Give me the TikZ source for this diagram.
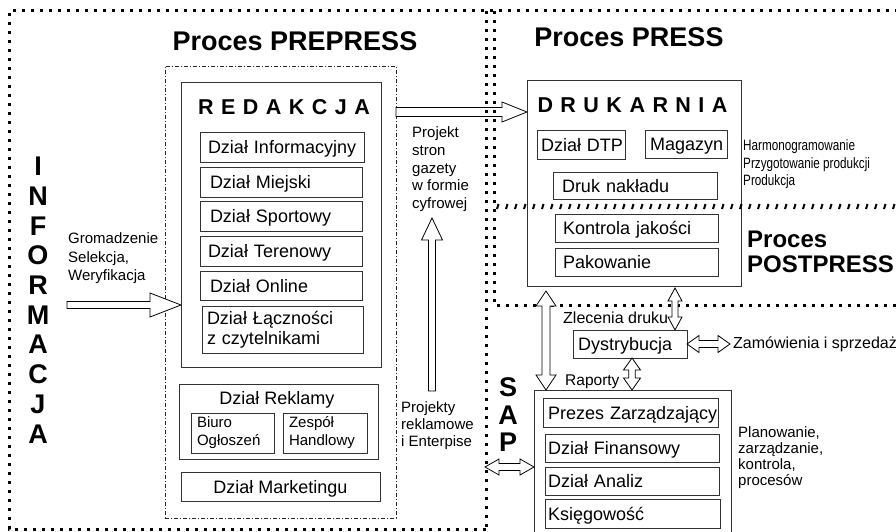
\documentclass[tikz,border=0pt]{standalone}
\usepackage{fontspec}
\setmainfont{Liberation Sans}
\newfontfamily\narrowsans[FakeStretch=0.78]{Liberation Sans}
\newfontfamily\spacedsans[LetterSpace=7]{Liberation Sans}
\usetikzlibrary{calc}

\tikzset{
  blockarr/.style={draw=black, line width=0.8pt, fill=white, line join=miter},
  frame/.style={line width=3pt, dash pattern=on 3pt off 6pt},
  groupbox/.style={draw=black!80, line width=0.9pt, anchor=north west, outer sep=0pt, inner sep=0pt},
  cellbase/.style={draw=black!80, line width=0.9pt, anchor=north west, outer sep=0pt,
    inner ysep=0pt, align=left, font=\fontsize{18}{20}\selectfont,
    execute at begin node={\hyphenpenalty=10000\exhyphenpenalty=10000\hbadness=10000\hfuzz=20pt\relax}},
  cell/.style={cellbase, text height=16.2pt, text depth=3.2pt},
  title/.style={anchor=base, inner sep=0pt, font=\fontsize{27}{30}\selectfont\bfseries},
  spacedtitle/.style={anchor=base, inner sep=0pt, font=\spacedsans\fontsize{21.5}{24}\selectfont\bfseries},
  bigletter/.style={anchor=base, inner sep=0pt, font=\fontsize{27}{30}\selectfont\bfseries},
  note/.style={anchor=north west, inner sep=0pt, align=left, font=\fontsize{15}{17.5}\selectfont},
  label15/.style={anchor=base west, inner sep=0pt, font=\fontsize{16}{19}\selectfont},
}

% hollow block arrow: tail, tip, shaft half width, head half width, head length
\newcommand\blockarrow[5]{%
  \draw[blockarr] ($(#1)!#3!90:(#2)$) -- ($(#2)!#5!(#1)!#3!90:(#2)$)
    -- ($(#2)!#5!(#1)!#4!90:(#2)$) -- (#2)
    -- ($(#2)!#5!(#1)!#4!-90:(#2)$) -- ($(#2)!#5!(#1)!#3!-90:(#2)$)
    -- ($(#1)!#3!-90:(#2)$) -- cycle;}
% hollow two-way block arrow: tip, tip, shaft half width, head half width, head length
\newcommand\twowayarrow[5]{%
  \draw[blockarr] (#1) -- ($(#1)!#5!(#2)!#4!90:(#2)$) -- ($(#1)!#5!(#2)!#3!90:(#2)$)
    -- ($(#2)!#5!(#1)!#3!90:(#2)$) -- ($(#2)!#5!(#1)!#4!90:(#2)$) -- (#2)
    -- ($(#2)!#5!(#1)!#4!-90:(#2)$) -- ($(#2)!#5!(#1)!#3!-90:(#2)$)
    -- ($(#1)!#5!(#2)!#3!-90:(#2)$) -- ($(#1)!#5!(#2)!#4!-90:(#2)$) -- cycle;}

\begin{document}
\begin{tikzpicture}[x=1pt, y=-1pt]
\useasboundingbox (0,0) rectangle (896,532);
\clip (0,0) rectangle (896,532);
\fill[white] (0,0) rectangle (896,532);

% ---------- PREPRESS ----------
\node[title] (tPre) at (295,50.5) {Proces PREPRESS};
\node[groupbox, draw=black!85, line width=0.7pt, dash pattern=on 4pt off 2pt on 1pt off 2pt,
      minimum width=231pt, minimum height=452pt] (prepress) at (165,66) {};
\node[groupbox, minimum width=200pt, minimum height=285pt] (redakcja) at (181,82) {};
\node[spacedtitle] (redT) at (284,115) {R E D A K C J A};

\node[cell, text width=148pt, inner xsep=8pt, minimum height=30pt] (inf) at (200,132) {Dział~Informacyjny};
\node[cell, text width=142pt, inner xsep=10pt, minimum height=30pt] (miej) at (200,167) {Dział~Miejski};
\node[cell, text width=142pt, inner xsep=10pt, minimum height=30pt] (sport) at (200,201) {Dział~Sportowy};
\node[cell, text width=146pt, inner xsep=8pt, minimum height=30pt] (teren) at (200,236) {Dział~Terenowy};
\node[cell, text width=142pt, inner xsep=10pt, minimum height=29pt] (online) at (200,271) {Dział~Online};
\node[cellbase, text width=151pt, inner xsep=5pt, minimum height=47pt] (lacz) at (202,306) {Dział~Łączności\\z~czytelnikami};

\node[groupbox, minimum width=199pt, minimum height=75pt] (reklamy) at (179,384) {};
\node[anchor=base, inner sep=0pt, font=\fontsize{18}{20}\selectfont] (rekT) at (277,404.5) {Dział Reklamy};
\node[cellbase, font=\fontsize{15}{18}\selectfont, text width=71pt, inner xsep=6pt, minimum height=40pt] (biuro) at (191,413) {Biuro\\Ogłoszeń};
\node[cellbase, font=\fontsize{15}{18}\selectfont, text width=72pt, inner xsep=6pt, minimum height=40pt] (zespol) at (283,413) {Zespół\\Handlowy};
\node[cell, minimum width=199pt, minimum height=29pt, inner xsep=0pt] (market) at (181,472) {Dział Marketingu};

% ---------- INFORMACJA ----------
\foreach \ch [count=\i from 0] in {I,N,F,O,R,M,A,C,J,A}
  \node[bigletter] (info\i) at (38,175.7+\i*29.7) {\ch};
\node[note, font=\fontsize{15}{18.5}\selectfont] (gather) at (68,232.5) {Gromadzenie\\Selekcja,\\Weryfikacja};

% ---------- PRESS ----------
\node[title] (tPress) at (629,46.5) {Proces PRESS};
\node[groupbox, minimum width=214pt, minimum height=206pt] (drukarnia) at (527,80) {};
\node[spacedtitle] (druT) at (632.5,113) {D R U K A R N I A};
\node[cell, text width=80pt, inner xsep=4pt, minimum height=29pt] (dtp) at (537,130) {Dział~DTP};
\node[cell, text width=72pt, inner xsep=5pt, minimum height=28pt] (magazyn) at (645,130) {Magazyn};
\node[cell, text width=146pt, inner xsep=9pt, minimum height=27pt] (druk) at (553,172) {Druk~nakładu};
\node[cell, text width=147pt, inner xsep=8pt, minimum height=28pt] (kontrola) at (555,214) {Kontrola~jakości};
\node[cell, text width=147pt, inner xsep=8pt, minimum height=28pt] (pakowanie) at (555,248) {Pakowanie};
\node[note, font=\narrowsans\fontsize{15}{17.5}\selectfont] (harm) at (743,139.5)
  {Harmonogramowanie\\Przygotowanie produkcji\\Produkcja};
\node[note, font=\fontsize{24}{25}\selectfont\bfseries] (tPost) at (747,231) {Proces\\POSTPRESS};

\node[note, font=\fontsize{15}{17.75}\selectfont] (projStron) at (412,126.5) {Projekt\\stron\\gazety\\w formie\\cyfrowej};
\node[note, font=\fontsize{15}{17}\selectfont] (projRekl) at (401,401.5) {Projekty\\reklamowe\\i Enterpise};

% ---------- distribution and SAP ----------
\node[cell, text width=104pt, inner xsep=5pt, minimum height=28pt] (dystr) at (573,330) {Dystrybucja};
\node[label15] (zlec) at (563,323.8) {Zlecenia druku};
\node[label15] (zam) at (733,348.8) {Zamówienia i sprzedaż};
\node[label15, font=\fontsize{15.5}{18}\selectfont] (rap) at (565,385) {Raporty};

\node[groupbox, minimum width=197pt, minimum height=160pt] (sap) at (534,390) {};
\node[cell, text width=165pt, inner xsep=5pt, minimum height=29pt] (prezes) at (543,398) {Prezes~Zarządzający};
\node[cell, text width=168pt, inner xsep=3pt, minimum height=28pt] (finans) at (545,434) {Dział~Finansowy};
\node[cell, text width=168pt, inner xsep=3pt, minimum height=28pt] (analiz) at (545,467) {Dział~Analiz};
\node[cell, text width=169pt, inner xsep=3pt, minimum height=29pt] (ksieg) at (545,499) {Księgowość};
\foreach \ch [count=\i from 0] in {S,A,P}
  \node[bigletter] (sapL\i) at (508,396.7+\i*27.5) {\ch};
\node[note, font=\fontsize{15}{16}\selectfont] (plan) at (738,426.5) {Planowanie,\\zarządzanie,\\kontrola,\\procesów};

% ---------- page output arrow (under the frame dots) ----------
\coordinate (pTail) at (prepress.east |- 0,112);
\coordinate (pTip) at (drukarnia.west |- pTail);
\blockarrow{pTail}{pTip}{4.5pt}{10pt}{25pt}

% ---------- dotted frames ----------
\draw[frame] (486,529) -- (9,529) -- (9,11) -- (896,11);
\draw[frame] (486,11) -- (486,529);
\draw[frame] (494,11) -- (494,305) -- (896,305);
\foreach \x in {497,506,...,893}
  \draw[line width=2pt] (\x,209) -- (\x+1.5,204);

% ---------- arrows ----------
\coordinate (infoTail) at (67,305);
\coordinate (infoTip) at (redakcja.west |- infoTail);
\blockarrow{infoTail}{infoTip}{3.5pt}{12pt}{31pt}

\coordinate (upTail) at (432,391);
\coordinate (upTip) at (432,218);
\blockarrow{upTail}{upTip}{3.5pt}{10.5pt}{22pt}

\coordinate (dsTop) at (546,291);
\coordinate (dsBot) at (dsTop |- sap.north);
\twowayarrow{dsTop}{dsBot}{4pt}{10pt}{15pt}

\coordinate (ddTop) at (675,288);
\coordinate (ddBot) at (ddTop |- dystr.north);
\twowayarrow{ddTop}{ddBot}{3pt}{7pt}{13pt}

\coordinate (dzEnd) at (730,0 |- dystr.east);
\twowayarrow{dystr.east}{dzEnd}{3.5pt}{8.5pt}{12pt}

\coordinate (drTop) at (632,0 |- dystr.south);
\coordinate (drBot) at (632,0 |- sap.north);
\twowayarrow{drTop}{drBot}{3.3pt}{8.5pt}{12pt}

\coordinate (slA) at (485,467);
\coordinate (slB) at (sap.west |- slA);
\twowayarrow{slA}{slB}{3.5pt}{8pt}{14pt}
\end{tikzpicture}
\end{document}
